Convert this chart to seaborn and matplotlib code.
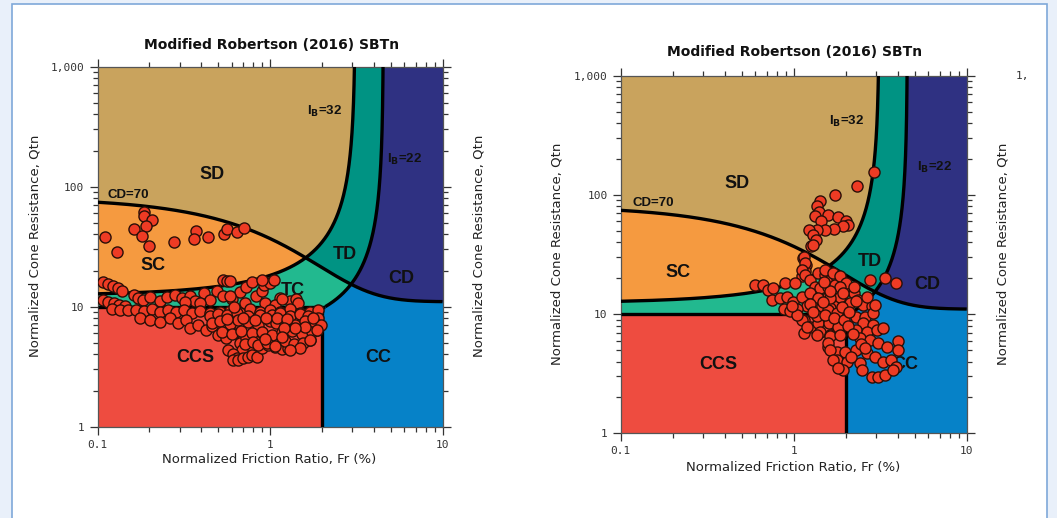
import numpy as np
import matplotlib
matplotlib.use("Agg")
import matplotlib.pyplot as plt
import seaborn as sns
from matplotlib.patches import Rectangle

# Robertson (2016) boundaries shown on the chart
IB_SAND = 32
IB_CLAY = 22
CD_LIMIT = 70
QTN_CCS = 10
FR_CCS = 2

ZONE_COLORS = {
    "SD": "#c9a35d",
    "SC": "#f59a40",
    "TC": "#22b98f",
    "TD": "#009383",
    "CD": "#2f3182",
    "CC": "#0682c8",
    "CCS": "#ee4c40",
}

TITLE = "Modified Robertson (2016) SBTn"
X_LABEL = "Normalized Friction Ratio, Fr (%)"
Y_LABEL = "Normalized Cone Resistance, Qtn"
X_TICKS = [0.1, 1, 10]
X_TICK_LABELS = ["0.1", "1", "10"]
Y_TICKS = [1, 10, 100, 1000]
Y_TICK_LABELS = ["1", "10", "100", "1,000"]

# left panel CPT points
fr_left = [
    0.187, 0.187, 0.208, 0.191, 0.163, 0.180, 0.110, 0.200, 0.130, 0.279, 0.372, 0.361, 0.439, 0.541, 0.566, 0.646, 0.707,
    0.108, 0.115, 0.123, 0.131, 0.139, 0.536, 0.561, 0.586,
    0.108, 0.115, 0.125, 0.133, 0.144,
    0.163, 0.172, 0.184, 0.202, 0.230, 0.253, 0.281, 0.308, 0.344, 0.367, 0.412, 0.449, 0.493, 0.534, 0.602, 0.670,
    0.726, 0.786, 0.830, 0.899, 0.923, 1.000, 1.055, 0.899, 1.143, 1.306, 1.415, 0.586, 0.322, 0.393, 0.716, 0.935,
    1.069, 1.180, 1.450,
    0.121, 0.135, 0.150, 0.167, 0.186, 0.207, 0.230, 0.256, 0.285, 0.317, 0.353, 0.393, 0.449, 0.513, 0.586, 0.670,
    0.766, 0.875, 1.000, 1.143, 1.306, 1.493, 1.706, 1.900,
    0.176, 0.202, 0.230, 0.263, 0.293, 0.326, 0.344, 0.383, 0.425, 0.461, 0.500, 0.555, 0.618, 0.670, 0.726, 0.766,
    0.819, 0.688,
    0.571, 0.610, 0.645, 0.610, 0.653, 0.697, 0.747, 0.786, 0.842, 0.899, 0.974, 1.069, 1.173, 1.280, 1.470, 1.710, 1.870,
    0.449, 0.497, 0.564, 0.643, 0.743, 0.875, 1.028, 1.143, 1.306, 1.493, 1.661, 1.900,
    0.461, 0.513, 0.586, 0.653, 0.743, 0.853, 0.998, 1.083, 1.222, 1.397, 1.596, 1.824, 1.970,
    0.530, 0.600, 0.680, 0.786, 0.899, 1.028, 1.173, 1.339, 1.532, 1.750,
    0.720, 0.800, 0.853, 0.960, 1.069, 1.222, 1.370, 1.550,
    1.780, 1.875, 1.706, 1.493, 1.306,
    0.560, 0.700, 0.820, 0.950, 1.100, 1.250, 1.600, 1.400, 1.200, 0.620, 0.930, 1.180,
]
qtn_left = [
    61.4, 56.8, 52.6, 46.9, 44.6, 39.2, 38.2, 31.9, 28.4, 34.4, 42.6, 37.0, 38.2, 40.5, 44.6, 42.1, 44.9,
    16.1, 15.6, 15.0, 14.4, 13.6, 16.8, 16.3, 16.5,
    11.4, 10.9, 10.7, 10.4, 10.2,
    12.6, 11.9, 11.4, 12.1, 11.2, 12.1, 12.6, 11.9, 12.3, 11.2, 13.1, 11.4, 13.6, 12.3, 11.6, 13.3,
    14.7, 16.2, 12.3, 13.6, 15.3, 15.9, 16.8, 16.8, 11.9, 11.2, 11.6, 12.3, 11.0, 10.8, 10.8, 10.8,
    10.4, 11.5, 10.8,
    9.60, 9.44, 9.44, 9.44, 9.27, 9.61, 9.10, 9.44, 9.10, 9.44, 8.92, 9.27, 8.92, 9.10, 9.27, 8.92,
    9.61, 9.10, 9.44, 9.10, 9.61, 8.92, 9.10, 9.44,
    8.10, 7.79, 7.50, 8.10, 7.35, 7.79, 6.68, 7.07, 6.43, 6.94, 5.84, 5.52, 6.00, 5.00, 5.52, 4.72,
    5.20, 4.37,
    4.37, 4.05, 3.73, 3.61, 3.61, 3.73, 3.81, 3.97, 3.81, 4.54, 4.81, 4.60, 4.40, 4.50, 4.60, 5.30, 6.40,
    8.4, 8.7, 8.5, 8.8, 8.3, 8.6, 8.5, 8.8, 8.4, 8.7, 8.3, 8.1,
    7.3, 7.6, 7.2, 7.7, 7.4, 7.1, 7.6, 7.3, 7.5, 7.0, 7.6, 7.3, 7.0,
    6.2, 5.9, 6.3, 6.0, 6.2, 5.8, 6.1, 6.3, 5.9, 6.1,
    4.9, 5.1, 4.8, 5.0, 4.7, 5.2, 4.9, 5.0,
    8.1, 6.43, 5.30, 4.54, 4.37,
    7.9, 8.0, 7.8, 8.1, 8.0, 7.9, 6.8, 6.6, 6.7, 9.9, 5.4, 5.6,
]

# right panel CPT points
fr_right = [
    2.924, 2.332, 1.733, 1.419, 1.370, 1.400, 1.580, 1.328, 1.800, 1.440, 2.010, 2.070, 1.940, 1.710, 1.517, 1.370,
    1.230, 1.300, 1.350, 1.255, 1.290, 1.130, 1.185, 1.163, 1.110,
    0.597, 0.667, 0.714, 0.763, 0.891, 1.017, 1.142, 1.163, 1.115, 1.163, 1.243, 1.390, 1.517, 1.621, 1.770, 1.328,
    1.419, 1.580, 1.690, 1.770, 0.748, 0.833, 0.910, 0.990, 1.110, 1.243, 1.390, 1.190, 1.328, 1.450, 1.621, 1.140,
    1.243, 1.390, 1.419, 1.621, 1.770, 1.621, 0.880, 0.950, 1.050, 1.140,
    1.580, 1.733, 1.979, 2.220, 1.852, 1.621, 2.116, 2.350, 2.530, 2.820, 1.580, 1.770, 2.300, 2.583, 2.870, 1.590,
    1.810, 2.530, 2.870, 2.300, 2.640, 3.030, 3.280, 1.621, 1.852, 2.416, 2.761, 3.090, 3.460, 4.000, 4.000, 1.580,
    1.770, 1.979, 2.300, 2.640, 2.951, 3.280, 3.650, 3.900, 1.770, 2.020, 2.416, 1.920, 2.470, 2.820, 3.090, 3.371,
    3.730,
    2.760, 3.370, 3.900,
    1.110, 1.190, 1.370, 1.580, 1.621, 1.690, 1.810,
    1.517, 1.690, 1.852, 2.000, 2.220, 1.852, 1.920, 2.300, 2.640, 2.950,
    1.250, 1.480, 1.620, 1.360, 1.520, 1.700, 1.950, 2.050, 1.500, 1.900, 2.100, 2.200, 2.450, 2.600, 2.150, 1.300,
    1.050, 0.980,
]
qtn_right = [
    155, 118, 100.6, 88.4, 80.2, 71.4, 68.3, 66.0, 65.4, 60.0, 60.0, 56.3, 54.4, 51.9, 50.5, 51.1,
    51.1, 46.4, 42.1, 37.5, 38.2, 29.5, 26.0, 22.8, 20.8,
    17.6, 17.6, 16.0, 16.5, 18.2, 18.2, 30.4, 26.8, 23.6, 21.4, 19.4, 22.1, 21.4, 19.4, 20.0, 17.0,
    16.5, 14.0, 13.2, 11.6, 13.2, 13.6, 14.0, 12.7, 14.0, 15.0, 13.6, 11.6, 11.2, 11.6, 11.2, 8.96,
    7.85, 8.35, 7.12, 8.70, 7.60, 6.70, 11.0, 10.6, 11.1, 6.9,
    17.0, 17.6, 17.0, 15.0, 14.0, 13.6, 12.3, 13.2, 12.0, 11.6, 10.9, 10.2, 9.5, 9.5, 10.2, 8.35,
    7.85, 8.35, 8.13, 7.38, 7.12, 7.38, 7.60, 6.49, 6.70, 6.28, 6.08, 5.70, 5.33, 5.95, 5.01, 5.33,
    4.85, 4.85, 5.01, 4.70, 4.40, 4.00, 4.13, 3.62, 4.13, 4.00, 3.87, 3.40, 3.40, 2.99, 2.99, 3.09,
    3.40,
    19.4, 20.0, 18.2,
    8.96, 7.85, 6.70, 5.70, 5.01, 4.13, 3.50,
    23.6, 22.1, 20.8, 18.2, 17.0, 17.0, 15.0, 12.8, 14.0, 12.0,
    12.2, 12.6, 15.5, 9.6, 9.9, 9.3, 9.0, 8.0, 18.5, 11.5, 10.5, 6.8, 5.6, 5.2, 4.4, 10.5,
    9.9, 11.8,
]

# zone label positions (Fr, Qtn) per panel
ZONE_LABELS_LEFT = [("SD", 0.46, 127), ("SC", 0.21, 22), ("TD", 2.72, 27.2), ("CD", 5.8, 17.1),
                    ("TC", 1.36, 13.6), ("CCS", 0.367, 3.75), ("CC", 4.23, 3.75)]
ZONE_LABELS_RIGHT = [("SD", 0.47, 124), ("SC", 0.214, 22.2), ("TD", 2.76, 27.5), ("CD", 5.9, 17.6),
                     ("CCS", 0.365, 3.75), ("CC", 4.4, 3.75)]


def qtn_on_ib(fr, ib):
    fr = np.asarray(fr, dtype=float)
    denom = 100.0 - ib * fr
    safe = np.where(denom > 0, denom, 1.0)
    return np.where(denom > 0, (70.0 * ib - 1000.0) / safe, 1e4)


def fr_on_ib(qtn, ib):
    qtn = np.asarray(qtn, dtype=float)
    return (100.0 * (qtn + 10.0) - 70.0 * ib) / (ib * qtn)


def qtn_on_cd(fr):
    return 11.0 + CD_LIMIT / (1.0 + 0.06 * np.asarray(fr, dtype=float)) ** 17


def draw_zones(ax):
    fr = np.logspace(-1, 1, 900)
    q32 = np.minimum(qtn_on_ib(fr, IB_SAND), 1e4)
    q22 = np.minimum(qtn_on_ib(fr, IB_CLAY), 1e4)
    qcd = qtn_on_cd(fr)

    ax.fill_between([0.1, 10], 1, 1000, color=ZONE_COLORS["CD"], lw=0, zorder=1)
    q_clay = np.logspace(np.log10(QTN_CCS), 3, 500)
    ax.fill_betweenx(q_clay, 0.1, fr_on_ib(q_clay, IB_CLAY), color=ZONE_COLORS["TD"], lw=0, zorder=1)
    q_sand = np.logspace(np.log10(qtn_on_ib(0.1, IB_SAND)), 3, 500)
    ax.fill_betweenx(q_sand, 0.1, fr_on_ib(q_sand, IB_SAND), color=ZONE_COLORS["SD"], lw=0, zorder=1)

    ax.fill_between(fr, q32, qcd, where=qcd > q32, interpolate=True, color=ZONE_COLORS["SC"], lw=0, zorder=1)
    lo = np.maximum(QTN_CCS, q22)
    hi = np.minimum(qcd, q32)
    ax.fill_between(fr, lo, hi, where=hi > lo, interpolate=True, color=ZONE_COLORS["TC"], lw=0, zorder=1)

    fr_cc = np.logspace(np.log10(FR_CCS), 1, 400)
    top_cc = np.maximum(QTN_CCS, np.minimum(qtn_on_cd(fr_cc), np.minimum(qtn_on_ib(fr_cc, IB_CLAY), 1e4)))
    ax.fill_between(fr_cc, 1, top_cc, color=ZONE_COLORS["CC"], lw=0, zorder=1)
    ax.fill_between([0.1, FR_CCS], 1, QTN_CCS, color=ZONE_COLORS["CCS"], lw=0, zorder=1)

    line_kw = dict(color="black", lw=2.4, zorder=3, solid_capstyle="butt")
    ax.plot(fr_on_ib(q_sand, IB_SAND), q_sand, **line_kw)
    ax.plot(fr_on_ib(q_clay, IB_CLAY), q_clay, **line_kw)
    ax.plot(fr, qcd, **line_kw)
    ax.plot([0.1, float(fr_on_ib(QTN_CCS, IB_CLAY))], [QTN_CCS, QTN_CCS], **line_kw)
    ax.plot([FR_CCS, FR_CCS], [1, QTN_CCS], **line_kw)


def style_axes(ax):
    ax.set_xscale("log")
    ax.set_yscale("log")
    ax.set_xlim(0.1, 10)
    ax.set_ylim(1, 1000)
    ax.set_xticks(X_TICKS, labels=X_TICK_LABELS)
    ax.set_yticks(Y_TICKS, labels=Y_TICK_LABELS)
    ax.tick_params(which="both", direction="out", top=True, right=True, colors="#333333",
                   labelsize=8, width=0.9)
    ax.tick_params(which="major", length=6)
    ax.tick_params(which="minor", length=3.5)
    for label in ax.get_xticklabels() + ax.get_yticklabels():
        label.set_family("DejaVu Sans Mono")
    for spine in ax.spines.values():
        spine.set_visible(True)
        spine.set_color("#555555")
        spine.set_linewidth(0.9)
    ax.set_xlabel("")
    ax.set_ylabel("")


def annotate(ax, labels, cd_pos, ib32_pos, ib22_pos):
    for name, x, y in labels:
        ax.text(x, y, name, ha="center", va="center", fontsize=13, fontweight="bold",
                family="Liberation Sans", color="#111111", zorder=4)
    ax.text(*cd_pos, "CD=70", ha="center", va="center", fontsize=9.5, fontweight="bold",
            family="Liberation Sans", color="#111111", zorder=4)
    ax.text(*ib32_pos, r"I$_\mathbf{B}$=32", ha="center", va="center", fontsize=9.5,
            fontweight="bold", family="Liberation Sans", color="#111111", zorder=4)
    ax.text(*ib22_pos, r"I$_\mathbf{B}$=22", ha="center", va="center", fontsize=9.5,
            fontweight="bold", family="Liberation Sans", color="#111111", zorder=4)


def draw_panel(ax, fr_pts, qtn_pts, labels, cd_pos, ib32_pos, ib22_pos):
    style_axes(ax)
    draw_zones(ax)
    annotate(ax, labels, cd_pos, ib32_pos, ib22_pos)
    sns.scatterplot(x=fr_pts, y=qtn_pts, ax=ax, s=64, color="#ee3b24", edgecolor="#2a0f08",
                    linewidth=1.0, zorder=6, legend=False)
    ax.set_xlim(0.1, 10)
    ax.set_ylim(1, 1000)
    ax.set_xlabel("")
    ax.set_ylabel("")


def main():
    sns.set_theme(style="ticks")
    plt.rcParams["font.family"] = ["DejaVu Sans"]
    plt.rcParams["mathtext.fontset"] = "dejavusans"

    W, H = 1057, 518
    fig = plt.figure(figsize=(W / 100, H / 100), dpi=100)
    fig.patch.set_facecolor("#e9f0fa")
    fig.patches.append(Rectangle((12 / W, -0.05), (1047 - 12) / W, 1.05 - 4 / H,
                                 transform=fig.transFigure, facecolor="white",
                                 edgecolor="#7fa8d9", lw=1.2, zorder=-10))

    ax1 = fig.add_axes([97.5 / W, (H - 426.7) / H, 345 / W, 360 / H])
    ax2 = fig.add_axes([620.7 / W, (H - 433.3) / H, 346 / W, 357.6 / H])

    draw_panel(ax1, fr_left, qtn_left, ZONE_LABELS_LEFT, (0.150, 84.6), (2.06, 426), (6.07, 169))
    draw_panel(ax2, fr_right, qtn_right, ZONE_LABELS_RIGHT, (0.154, 86.1), (2.03, 413), (6.56, 169))

    def ftext(x, y, s, **kw):
        fig.text(x / W, 1 - y / H, s, ha="center", va="center", **kw)

    ftext(272, 45, TITLE, fontsize=10, fontweight="bold", color="#111111")
    ftext(795, 52, TITLE, fontsize=10, fontweight="bold", color="#111111")
    ftext(269, 460, X_LABEL, fontsize=9.5, color="#222222")
    ftext(793, 467, X_LABEL, fontsize=9.5, color="#222222")
    for x, y in [(35, 246), (479, 246), (557, 254), (1003, 254)]:
        ftext(x, y, Y_LABEL, fontsize=9.5, color="#222222", rotation=90)
    ftext(1022, 76, "1,", fontsize=8, family="DejaVu Sans Mono", color="#333333")

    fig.savefig("out.png", dpi=100, facecolor=fig.get_facecolor())
    plt.close(fig)


if __name__ == "__main__":
    main()
